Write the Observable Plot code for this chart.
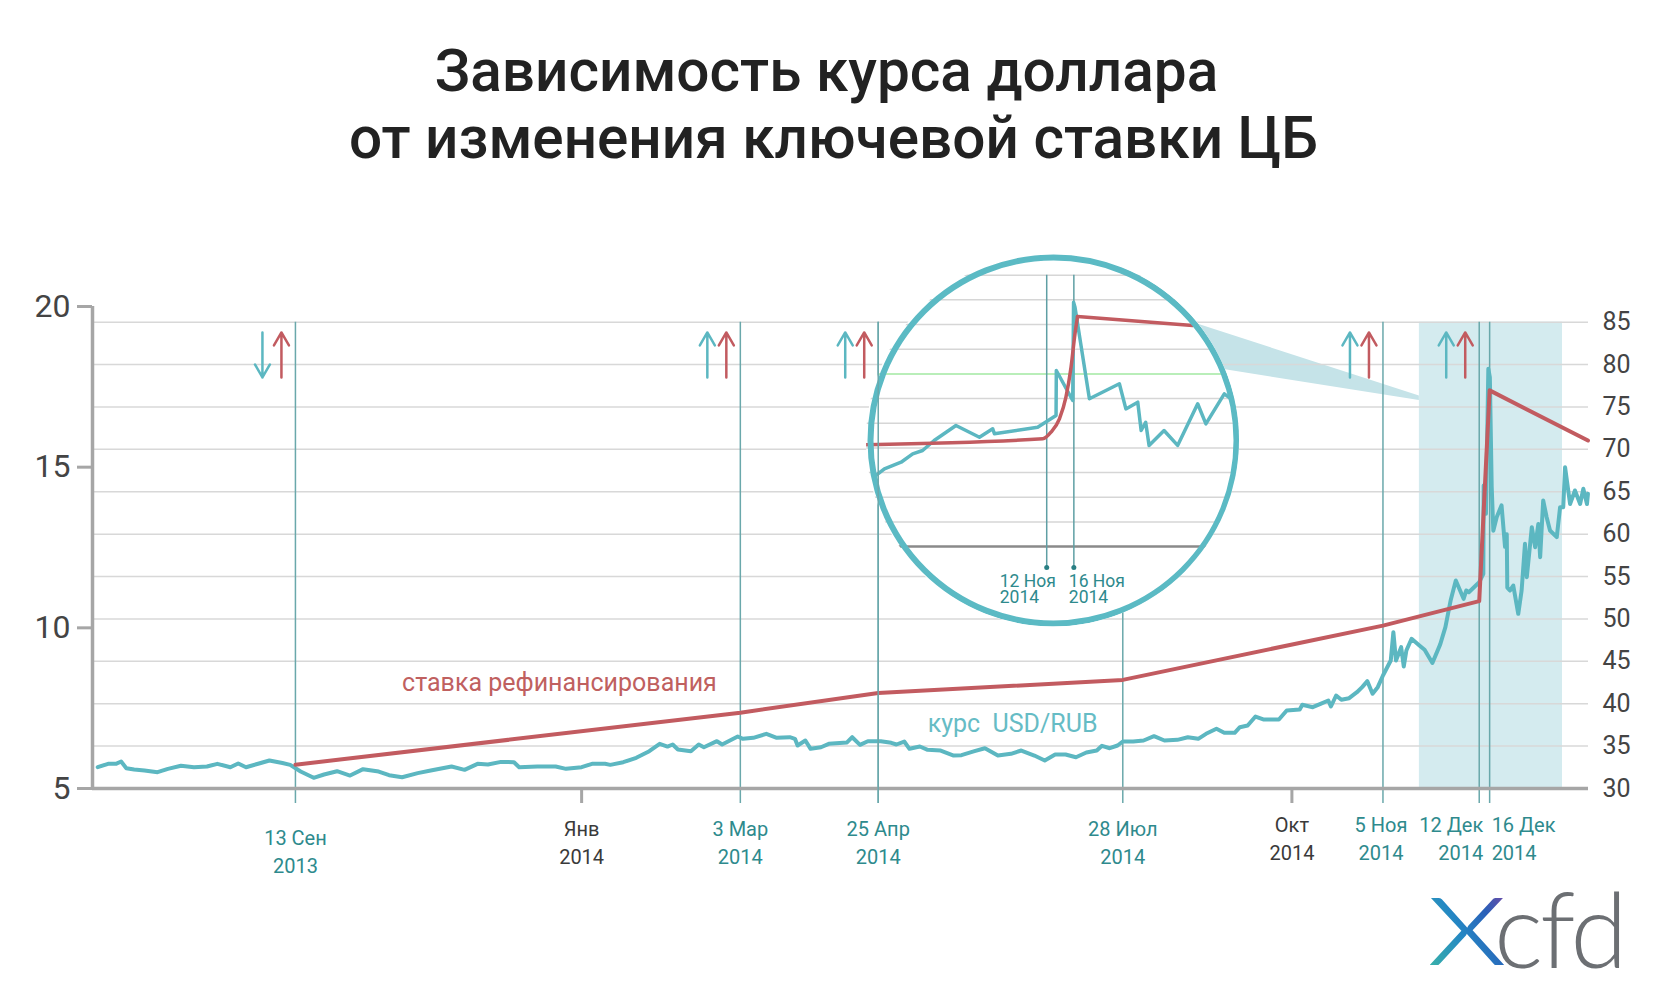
<!DOCTYPE html>
<html><head><meta charset="utf-8">
<script src="https://cdn.jsdelivr.net/npm/d3@7"></script>
<script src="https://cdn.jsdelivr.net/npm/@observablehq/plot@0.6"></script>
<style>
html,body{margin:0;padding:0;background:#fff;}
#wrap{position:relative;width:1667px;height:994px;overflow:hidden;background:#fff;font-family:Roboto,"Noto Sans",sans-serif;}
#title{position:absolute;left:0;top:38px;width:1667px;text-align:center;font-size:58.5px;line-height:67px;font-weight:500;color:#222;}
#title .l1{position:relative;left:-7px;}
#main,#overlay{position:absolute;left:0;top:250px;}
#inset{position:absolute;left:862.5px;top:250px;width:380px;height:380px;clip-path:circle(186.5px at 50% 50%);}
svg text{white-space:pre;}
#logo{position:absolute;left:1420px;top:830px;}
</style></head>
<body><div id="wrap">
<div id="title"><span class="l1">Зависимость курса доллара</span><br>от изменения ключевой ставки ЦБ</div>
<div id="main"></div>
<div id="inset"></div>
<div id="overlay"></div>
<svg id="logo" width="215" height="164" xmlns="http://www.w3.org/2000/svg">
  <defs><linearGradient id="xg" x1="0" y1="1" x2="1" y2="0">
    <stop offset="0" stop-color="#40c0a0"/><stop offset="0.4" stop-color="#2487c4"/>
    <stop offset="0.62" stop-color="#2a5fb8"/><stop offset="1" stop-color="#c23391"/></linearGradient></defs>
  <text x="6" y="135" font-family="Lato, sans-serif" font-weight="300" font-size="135" textLength="82" lengthAdjust="spacingAndGlyphs" fill="url(#xg)">x</text>
  <text x="74" y="137.5" font-family="Lato, sans-serif" font-weight="300" font-size="104" letter-spacing="-3" fill="#6c6f73">cfd</text>
</svg>
</div>
<script>
// ---------- data ----------
const usdDates = ["2013-06-29","2013-07-03","2013-07-06","2013-07-08","2013-07-10","2013-07-13","2013-07-17","2013-07-22","2013-07-26","2013-07-31",
"2013-08-05","2013-08-10","2013-08-14","2013-08-19","2013-08-22","2013-08-25","2013-08-30","2013-09-03","2013-09-08","2013-09-11",
"2013-09-15","2013-09-20","2013-09-24","2013-09-29","2013-10-04","2013-10-09","2013-10-15","2013-10-19","2013-10-24","2013-10-30",
"2013-11-04","2013-11-12","2013-11-17","2013-11-22","2013-11-26","2013-12-01","2013-12-06","2013-12-08","2013-12-15","2013-12-22",
"2013-12-26","2014-01-01","2014-01-05","2014-01-10","2014-01-12","2014-01-17","2014-01-22","2014-01-27","2014-01-31","2014-02-03",
"2014-02-05","2014-02-07","2014-02-12","2014-02-15","2014-02-17","2014-02-22","2014-02-24","2014-03-02","2014-03-04","2014-03-08",
"2014-03-13","2014-03-17","2014-03-22","2014-03-24","2014-03-25","2014-03-28","2014-03-30","2014-04-03","2014-04-06","2014-04-13",
"2014-04-15","2014-04-18","2014-04-21","2014-04-26","2014-04-30","2014-05-02","2014-05-05","2014-05-07","2014-05-11","2014-05-14",
"2014-05-19","2014-05-24","2014-05-27","2014-06-01","2014-06-05","2014-06-10","2014-06-15","2014-06-19","2014-06-24","2014-06-28",
"2014-07-02","2014-07-06","2014-07-10","2014-07-14","2014-07-18","2014-07-20","2014-07-23","2014-07-26","2014-07-28","2014-08-01",
"2014-08-05","2014-08-09","2014-08-13","2014-08-18","2014-08-22","2014-08-26","2014-08-29","2014-09-02","2014-09-05","2014-09-09",
"2014-09-11","2014-09-14","2014-09-17","2014-09-20","2014-09-26","2014-09-29","2014-10-04","2014-10-05","2014-10-09","2014-10-12",
"2014-10-15","2014-10-16","2014-10-18","2014-10-20","2014-10-23","2014-10-26","2014-10-28","2014-10-30","2014-11-01","2014-11-03",
"2014-11-05","2014-11-08","2014-11-09","2014-11-10","2014-11-12","2014-11-13","2014-11-14","2014-11-16","2014-11-19","2014-11-21",
"2014-11-24","2014-11-27","2014-11-29","2014-12-01","2014-12-03","2014-12-06","2014-12-07","2014-12-08","2014-12-12",
"2014-12-13T14:00Z","2014-12-13T17:00Z","2014-12-14T14:00Z","2014-12-15T12:00Z","2014-12-16T02:00Z","2014-12-16T19:00Z","2014-12-17T10:00Z",
"2014-12-18T17:00Z","2014-12-20T14:00Z","2014-12-21T22:00Z","2014-12-22T14:00Z","2014-12-22T19:00Z","2014-12-23T19:00Z","2014-12-25T02:00Z",
"2014-12-27T00:00Z","2014-12-28T07:00Z","2014-12-29T14:00Z","2014-12-30T07:00Z","2015-01-01T05:00Z","2015-01-02T12:00Z","2015-01-03T17:00Z",
"2015-01-04T10:00Z","2015-01-05T14:00Z","2015-01-06T22:00Z","2015-01-08T05:00Z","2015-01-10T19:00Z","2015-01-12T02:00Z","2015-01-13T07:00Z",
"2015-01-14T00:00Z","2015-01-15T22:00Z","2015-01-17T19:00Z","2015-01-19T19:00Z","2015-01-21T00:00Z","2015-01-22T10:00Z","2015-01-22T19:00Z"];
const usdValues = [32.51,32.91,32.91,33.18,32.39,32.24,32.12,31.92,32.32,32.68,
32.51,32.59,32.91,32.51,32.95,32.51,32.95,33.30,33.00,32.79,
32.00,31.26,31.65,32.04,31.53,32.28,32.00,31.57,31.33,31.81,
32.12,32.59,32.20,32.91,32.83,33.14,33.10,32.51,32.59,32.59,
32.32,32.51,32.91,32.91,32.79,33.10,33.62,34.40,35.27,34.95,
35.19,34.60,34.40,35.19,34.87,35.58,35.19,36.13,35.86,35.98,
36.45,35.98,36.05,35.86,35.07,35.66,34.68,34.87,35.27,35.43,
36.05,35.15,35.58,35.58,35.39,35.19,35.54,34.68,34.95,34.56,
34.48,33.89,33.93,34.40,34.75,33.89,34.09,34.48,33.89,33.30,
34.01,34.01,33.69,34.25,34.48,35.03,34.75,35.07,35.54,35.54,
35.66,36.17,35.66,35.74,36.05,35.86,36.45,37.04,36.57,36.57,
37.23,37.43,38.49,38.14,38.14,39.20,39.32,39.87,39.59,39.99,
40.38,39.67,40.97,40.46,40.65,41.36,41.95,42.66,41.17,41.95,
43.33,45.10,48.44,45.10,46.67,44.39,46.28,47.66,46.87,46.36,
44.80,47.00,49.03,52.17,54.53,52.37,53.35,53.15,54.33,
55.32,65.74,62.40,79.50,78.50,65.60,60.40,
62.00,63.40,58.50,60.00,53.70,53.35,53.94,
50.60,53.35,58.86,54.93,60.82,58.46,61.20,
57.28,63.97,62.00,60.43,59.64,63.18,63.18,
67.90,63.56,65.15,63.56,65.35,63.56,64.76];

const rateDates = ["2013-09-13","2014-03-03","2014-04-25","2014-07-28","2014-11-05","2014-12-12","2014-12-16","2015-01-22T19:00Z"];
const rateValues = [5.74,7.36,7.97,8.38,10.07,10.83,17.39,15.83];

const eventDates = ["2013-09-13","2014-03-03","2014-04-25","2014-07-28","2014-11-05","2014-12-12","2014-12-16"];
const eventLabels = ["13 Сен\n2013","3 Мар\n2014","25 Апр\n2014","28 Июл\n2014","5 Ноя\n2014","12 Дек\n2014","16 Дек\n2014"];

const monthDates = ["2014-01-01","2014-10-01"];
const monthLabels = ["Янв\n2014","Окт\n2014"];

const arrowDates = ["2013-09-13","2014-03-03","2014-04-25","2014-11-05","2014-12-12"];
const usdDirections = ["down","up","up","up","up"];
const rateDirections = ["up","up","up","up","up"];

const leftTicks = [5,10,15,20];          // ставка, %
const rightTicks = [30,35,40,45,50,55,60,65,70,75,80,85]; // руб.

const zoomWindow = {start: "2014-11-19", end: "2015-01-13"};
const coneDates = ["2014-08-10","2014-11-19"];
const coneLow = [80.68,75.75];
const coneHigh = [86.35,76.3];

const annotationTexts = ["ставка рефинансирования","курс  USD/RUB"];
const annotationDates = ["2013-10-24","2014-05-14"];
const annotationValues = [42.4,37.57];

// inset (лупа)
const insetUsdDates = ["2014-10-17T20:00Z","2014-10-19T02:00Z","2014-10-21T13:00Z","2014-10-23T06:00Z","2014-10-24T17:00Z","2014-10-26T10:00Z",
"2014-10-29T15:00Z","2014-11-02T02:00Z","2014-11-04T01:00Z","2014-11-04T07:00Z","2014-11-10T16:00Z","2014-11-12T15:00Z","2014-11-13T09:00Z",
"2014-11-13T10:00Z","2014-11-15T20:00Z","2014-11-15T23:00Z","2014-11-16T04:00Z","2014-11-18T07:00Z","2014-11-22T17:00Z","2014-11-23T16:00Z",
"2014-11-25T10:00Z","2014-11-25T22:00Z","2014-11-26T14:00Z","2014-11-27T02:00Z","2014-11-29T07:00Z","2014-12-01T07:00Z","2014-12-04T06:00Z",
"2014-12-05T11:00Z","2014-12-08T04:00Z","2014-12-09T04:00Z"];
const insetUsdValues = [44.41,45.77,47.1,48.8,49.47,51.5,54.54,52.17,53.87,52.86,54.2,55.9,56.57,65.69,59.6,79.52,78.5,59.95,63,57.9,
59.26,53.53,55.2,50.5,53.53,50.5,58.94,54.88,60.96,59.95];
const insetRateDates = ["2014-10-16T00:00Z","2014-11-11T10:00Z","2014-11-12T15:00Z","2014-11-13T21:00Z","2014-11-14T20:00Z","2014-11-15T14:00Z",
"2014-11-16T04:00Z","2014-11-16T13:00Z","2014-12-03T12:00Z"];
const insetRateValues = [50.65,51.84,53.18,55.9,60.28,66.35,73.12,76.63,74.8];
const insetEventDates = ["2014-11-12","2014-11-16"];
const insetEventLabels = ["12 Ноя\n2014","16 Ноя\n2014"];
const insetGrid = [35,40,45,50,55,60,70,75,80,85];
const insetHighlight = [65];

// ---------- helpers ----------
const P = s => new Date(s);
const TEAL = "#5cb7c1", RED = "#c25b60", RULE = "#6aa8ab", LABEL = "#2e8a8d", GRAY = "#a6a6a6";
const Y_MIN = 30, Y_MAX = 86.85;
const rateToY = r => Y_MIN + (r - leftTicks[0]) * (Y_MAX - Y_MIN) / (leftTicks[leftTicks.length-1] - leftTicks[0]);
const yToRate = y => Math.round(leftTicks[0] + (y - Y_MIN) * (leftTicks[leftTicks.length-1] - leftTicks[0]) / (Y_MAX - Y_MIN));
const ARROW_LOW = 78.48, ARROW_HIGH = 83.79;

const usd = usdDates.map((d,i) => ({date: P(d), value: usdValues[i]}));
const rate = rateDates.map((d,i) => ({date: P(d), value: rateValues[i]}));
const events = eventDates.map((d,i) => ({date: P(d), label: eventLabels[i]}));
const months = monthDates.map((d,i) => ({date: P(d), label: monthLabels[i]}));
const arrows = arrowDates.map((d,i) => ({date: P(d), usd: usdDirections[i], rate: rateDirections[i]}));
const cone = coneDates.map((d,i) => ({date: P(d), low: coneLow[i], high: coneHigh[i]}));
const notes = annotationTexts.map((t,i) => ({text: t, date: P(annotationDates[i]), value: annotationValues[i]}));

const common = {
  width: 1667, height: 744, marginLeft: 92, marginRight: 79, marginTop: 56, marginBottom: 206,
  x: {type: "utc", domain: [P("2013-06-27"), P("2015-01-23")], axis: null},
  y: {domain: [Y_MIN, Y_MAX], axis: null, label: null}
};

const lbl = (rows, anchor, dy, fill, dx = 0) => Plot.text(rows, {x: "date", y: Y_MIN, text: "label", textAnchor: anchor,
  lineAnchor: "top", dy, dx, fill, fontSize: 20, lineHeight: 1.42});

const main = Plot.plot({
  ...common,
  style: {fontFamily: "Roboto, sans-serif", background: "white"},
  marks: [
    Plot.rect([zoomWindow], {x1: d => P(d.start), x2: d => P(d.end), y1: 30, y2: 85, fill: "#d4ebef"}),
    Plot.areaY(cone, {x: "date", y1: "low", y2: "high", fill: "#c5e3e8"}),
    Plot.ruleY(rightTicks.filter(v => v > Y_MIN), {stroke: "#d8d8d8", strokeWidth: 1.5}),
    Plot.ruleX(events, {x: "date", y1: 85, y2: Y_MIN, insetBottom: -15, stroke: RULE, strokeWidth: 1.5}),
    Plot.ruleX(months, {x: "date", y1: Y_MIN, y2: Y_MIN, insetBottom: -15, stroke: GRAY, strokeWidth: 3}),
    Plot.ruleY([Y_MIN], {stroke: GRAY, strokeWidth: 3.5}),
    Plot.ruleX([P("2013-06-27")], {y1: Y_MIN, y2: Y_MAX, stroke: GRAY, strokeWidth: 3.5}),
    Plot.axisY(leftTicks.map(rateToY), {anchor: "left", tickSize: 15, tickPadding: 7, tickFormat: yToRate,
      fontSize: 32, stroke: GRAY, strokeWidth: 3, fill: "#444"}),
    Plot.axisY(rightTicks, {anchor: "right", tickSize: 0, tickPadding: 14, fontSize: 25, fill: "#444"}),
    Plot.line(usd, {x: "date", y: "value", stroke: TEAL, strokeWidth: 4, strokeLinejoin: "round"}),
    Plot.line(rate, {x: "date", y: d => rateToY(d.value), stroke: RED, strokeWidth: 4, strokeLinejoin: "round"}),
    Plot.arrow(arrows, {x1: "date", x2: "date", y1: d => d.usd === "up" ? ARROW_LOW : ARROW_HIGH,
      y2: d => d.usd === "up" ? ARROW_HIGH : ARROW_LOW, dx: -33, stroke: TEAL, strokeWidth: 2.5, headLength: 11}),
    Plot.arrow(arrows, {x1: "date", x2: "date", y1: d => d.rate === "up" ? ARROW_LOW : ARROW_HIGH,
      y2: d => d.rate === "up" ? ARROW_HIGH : ARROW_LOW, dx: -14, stroke: RED, strokeWidth: 2.5, headLength: 11}),
    Plot.text(notes.slice(0,1), {x: "date", y: "value", text: "text", textAnchor: "start", fill: "#c0605f", fontSize: 25}),
    Plot.text(notes.slice(1), {x: "date", y: "value", text: "text", textAnchor: "start", fill: "#66bcc5", fontSize: 25}),
    lbl(events.slice(0,1), "middle", 36, LABEL),
    lbl(events.slice(1,4), "middle", 27, LABEL),
    lbl(events.slice(4,5), "middle", 23, LABEL, -2),
    lbl(events.slice(5,6), "end", 23, LABEL, 4),
    lbl(events.slice(6,7), "start", 23, LABEL, 2),
    lbl(months.slice(0,1), "middle", 27, "#3a3a3a"),
    lbl(months.slice(1,2), "middle", 23, "#3a3a3a")
  ]
});
document.getElementById("main").appendChild(main);

// ---------- inset ----------
const iUsd = insetUsdDates.map((d,i) => ({date: P(d), value: insetUsdValues[i]}));
const iRate = insetRateDates.map((d,i) => ({date: P(d), value: insetRateValues[i]}));
const iEvents = insetEventDates.map((d,i) => ({date: P(d), label: insetEventLabels[i]}));
const peak = iRate.length - 2;
const insetPlot = Plot.plot({
  width: 380, height: 380, margin: 0,
  x: {type: "utc", domain: [P("2014-10-16"), P("2014-12-11")], axis: null},
  y: {domain: [13, 90], axis: null, label: null},
  style: {fontFamily: "Roboto, sans-serif", background: "white"},
  marks: [
    Plot.ruleY(insetGrid, {stroke: "#d6d6d6", strokeWidth: 1.5}),
    Plot.ruleY(insetHighlight, {stroke: "#b9eeb9", strokeWidth: 2}),
    Plot.ruleY([30], {stroke: "#8a8a8a", strokeWidth: 2.5}),
    Plot.ruleX(iEvents, {x: "date", y1: 85, y2: 30, insetBottom: -21, stroke: "#5f9fa4", strokeWidth: 1.5}),
    Plot.dot(iEvents, {x: "date", y: 30, dy: 21, r: 2.5, fill: "#2a7f84"}),
    Plot.line(iUsd, {x: "date", y: "value", stroke: TEAL, strokeWidth: 3.5, strokeLinejoin: "round"}),
    Plot.line(iRate.slice(0, peak + 1), {x: "date", y: "value", stroke: RED, strokeWidth: 3.5, curve: "monotone-x"}),
    Plot.line(iRate.slice(peak), {x: "date", y: "value", stroke: RED, strokeWidth: 3.5, strokeLinecap: "round"}),
    Plot.text(iEvents.slice(0,1), {x: "date", y: 30, text: "label", textAnchor: "start", lineAnchor: "top", dy: 29, dx: -47,
      fill: LABEL, fontSize: 17.5, lineHeight: 0.9}),
    Plot.text(iEvents.slice(1), {x: "date", y: 30, text: "label", textAnchor: "start", lineAnchor: "top", dy: 29, dx: -5,
      fill: LABEL, fontSize: 17.5, lineHeight: 0.9}),
    Plot.dot([0], {frameAnchor: "middle", r: 183, stroke: "#5bbac4", strokeWidth: 6, fill: "none"})
  ]
});
document.getElementById("inset").appendChild(insetPlot);

// ---------- overlay: 25 Апр rule passes over the magnifier ----------
const overlay = Plot.plot({
  ...common,
  style: {background: "transparent"},
  marks: [Plot.ruleX(events.slice(2,3), {x: "date", y1: 85, y2: Y_MIN, insetBottom: -15, stroke: RULE, strokeWidth: 1.5})]
});
document.getElementById("overlay").appendChild(overlay);
</script>
</body></html>
